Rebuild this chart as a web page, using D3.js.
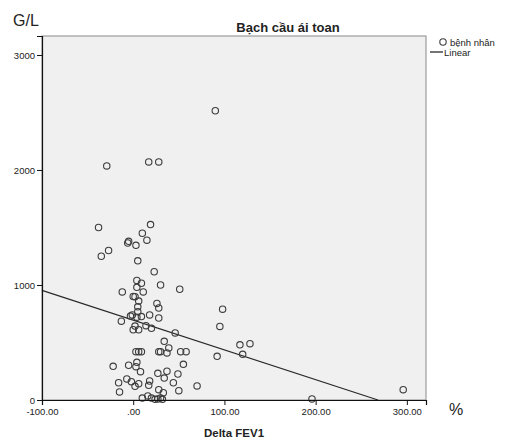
<!DOCTYPE html>
<html>
<head>
<meta charset="utf-8">
<script src="https://cdn.jsdelivr.net/npm/d3@7"></script>
<style>
  body { margin: 0; background: #fff; }
  text { font-family: "Liberation Sans", Arial, sans-serif; fill: #222; }
</style>
</head>
<body>
<svg id="chart" width="505" height="442"></svg>
<script>
// Delta FEV1 (%) vs bạch cầu ái toan (G/L)
var deltaFev1 = [90, 17, 28, -29, -38, 19, 10, 15, -5, -6, 3, -27, -35, 5, 23, 4, 9, 30, 4, -12,
  11, 51, 0, 2, 6, 26, 5, 28, 98, 5, 18, -3, -1, 4, 9, 28, -13, 2, 14, 95,
  0, 6, 20, 46, 117, 128, 120, 92, 34, 39, 3, 6, 9, 28, 30, 37, 52, 58, 4, -5,
  3, -22, 55, 8, 37, 27, 49, 34, -7, -2, 6, 18, 17, 2, -16, -15, 44, 70, 50, 28,
  33, 10, 16, 20, 24, 27, 30, 32, 196, 296];
var eosinophil = [2515, 2070, 2070, 2035, 1500, 1525, 1450, 1390, 1380, 1365, 1345, 1300, 1250, 1210, 1115, 1040, 1015, 1000, 980, 940,
  940, 963, 900, 898, 860, 840, 810, 800, 790, 768, 740, 730, 740, 720, 725, 713, 685, 643, 646, 640,
  611, 611, 623, 583, 480, 490, 397, 380, 510, 452, 420, 420, 420, 420, 420, 409, 420, 420, 328, 302,
  290, 293, 310, 246, 250, 232, 226, 191, 183, 159, 142, 165, 128, 119, 150, 70, 150, 122, 81, 90,
  63, 17, 35, 17, 6, 9, 17, 6, 9, 90];

// đường hồi quy tuyến tính
var fitIntercept = 695, fitSlope = -2.59;

var xTicks = [-100, 0, 100, 200, 300];
var yTicks = [0, 1000, 2000, 3000];

var svg = d3.select("#chart");
var plotL = 42, plotR = 426, plotT = 36, plotB = 400;

var x = d3.scaleLinear().domain([-100, 321]).range([plotL, plotR]);
var y = d3.scaleLinear().domain([0, 3165]).range([plotB, plotT]);

function fmtX(d) {
  return d === 0 ? ".00" : d.toFixed(2);
}

// nền vùng vẽ
svg.append("rect")
  .attr("x", plotL).attr("y", plotT)
  .attr("width", plotR - plotL).attr("height", plotB - plotT)
  .attr("fill", "#f0f0f0")
  .attr("stroke", "#8a8a8a").attr("stroke-width", 1);

// đường hồi quy, cắt theo vùng vẽ
var xZero = -fitIntercept / fitSlope;
var xEnd = Math.min(321, xZero);
svg.append("line")
  .attr("x1", x(-100)).attr("y1", y(fitIntercept + fitSlope * -100))
  .attr("x2", x(xEnd)).attr("y2", y(fitIntercept + fitSlope * xEnd))
  .attr("stroke", "#2a2a2a").attr("stroke-width", 1.3);

// các điểm
svg.append("g").selectAll("circle")
  .data(deltaFev1.map(function(d, i) { return [d, eosinophil[i]]; }))
  .enter().append("circle")
  .attr("cx", function(d) { return x(d[0]); })
  .attr("cy", function(d) { return y(d[1]); })
  .attr("r", 3.2)
  .attr("fill", "none")
  .attr("stroke", "#3c3c3c")
  .attr("stroke-width", 1.1);

// trục
var xAxis = svg.append("g")
  .attr("transform", "translate(0," + plotB + ")")
  .call(d3.axisBottom(x).tickValues(xTicks).tickFormat(fmtX).tickSize(5).tickPadding(3));
var yAxis = svg.append("g")
  .attr("transform", "translate(" + plotL + ",0)")
  .call(d3.axisLeft(y).tickValues(yTicks).tickFormat(d3.format("d")).tickSize(5).tickPadding(2));

[xAxis, yAxis].forEach(function(a) {
  a.select(".domain").attr("stroke", "#111").attr("stroke-width", 1.2);
  a.selectAll(".tick line").attr("stroke", "#111");
  a.selectAll(".tick text")
    .style("font-family", "'Liberation Sans', Arial, sans-serif")
    .style("font-size", "9.5px").attr("fill", "#333");
});

// tiêu đề và nhãn
svg.append("text").attr("x", 288).attr("y", 32)
  .attr("text-anchor", "middle")
  .style("font-size", "13px").style("font-weight", "bold")
  .text("Bạch cầu ái toan");

svg.append("text").attr("x", 13).attr("y", 26)
  .style("font-size", "16px")
  .text("G/L");

svg.append("text").attr("x", 449).attr("y", 415)
  .style("font-size", "16px")
  .text("%");

svg.append("text").attr("x", 234).attr("y", 437)
  .attr("text-anchor", "middle")
  .style("font-size", "11.5px").style("font-weight", "bold")
  .text("Delta FEV1");

// chú giải
var legend = svg.append("g");
legend.append("circle").attr("cx", 443).attr("cy", 42).attr("r", 3.2)
  .attr("fill", "none").attr("stroke", "#3c3c3c").attr("stroke-width", 1.1);
legend.append("text").attr("x", 450).attr("y", 45.5)
  .style("font-size", "9.5px").text("bệnh nhân");
legend.append("line").attr("x1", 430).attr("x2", 443).attr("y1", 52).attr("y2", 52)
  .attr("stroke", "#2a2a2a").attr("stroke-width", 1.3);
legend.append("text").attr("x", 444).attr("y", 55.5)
  .style("font-size", "9.5px").text("Linear");
</script>
</body>
</html>
